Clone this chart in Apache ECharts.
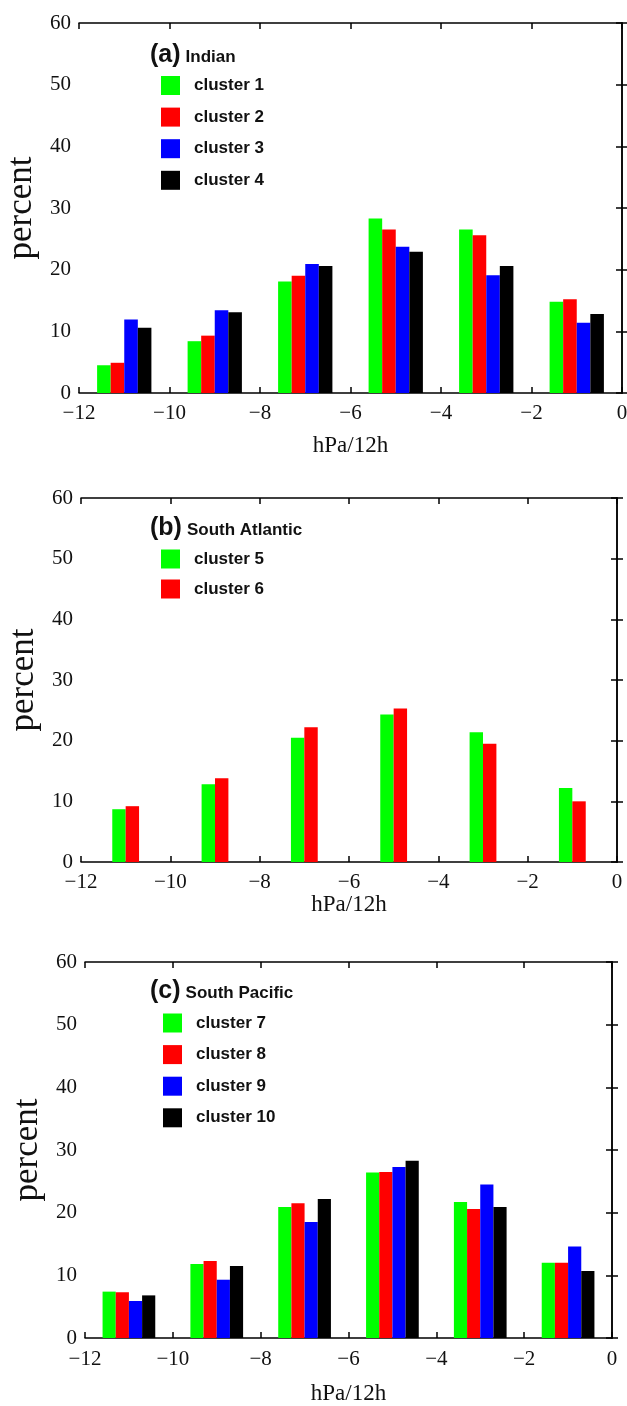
<!DOCTYPE html>
<html>
<head>
<meta charset="utf-8">
<script src="https://cdn.jsdelivr.net/npm/echarts@6/dist/echarts.min.js"></script>
<style>
html,body{margin:0;padding:0;background:#fff;}
#c{width:627px;height:1406px;}
</style>
</head>
<body>
<div id="c"></div>
<script>
// ---- data ----
const categories = ['-11', '-9', '-7', '-5', '-3', '-1']; // bin centres, hPa/12h
const xMin = -12, xMax = 0, xStep = 2;
const yMin = 0, yMax = 60, yStep = 10;

const indianNames = ['cluster 1', 'cluster 2', 'cluster 3', 'cluster 4'];
const cluster1 = [4.5, 8.4, 18.1, 28.3, 26.5, 14.8];
const cluster2 = [4.9, 9.3, 19.0, 26.5, 25.6, 15.2];
const cluster3 = [11.9, 13.4, 20.9, 23.7, 19.1, 11.4];
const cluster4 = [10.6, 13.1, 20.6, 22.9, 20.6, 12.8];

const atlanticNames = ['cluster 5', 'cluster 6'];
const cluster5 = [8.7, 12.8, 20.5, 24.3, 21.4, 12.2];
const cluster6 = [9.2, 13.8, 22.2, 25.3, 19.5, 10.0];

const pacificNames = ['cluster 7', 'cluster 8', 'cluster 9', 'cluster 10'];
const cluster7 = [7.4, 11.8, 20.9, 26.4, 21.7, 12.0];
const cluster8 = [7.3, 12.3, 21.5, 26.5, 20.6, 12.0];
const cluster9 = [5.9, 9.3, 18.5, 27.3, 24.5, 14.6];
const cluster10 = [6.8, 11.5, 22.2, 28.3, 20.9, 10.7];

const panelTitles = [['(a)', 'Indian'], ['(b)', 'South Atlantic'], ['(c)', 'South Pacific']];
const xName = 'hPa/12h';
const yName = 'percent';
const colors = ['#00ff00', '#ff0000', '#0000ff', '#000000'];

// ---- layout ----
const panels = [
  {grid:{left:79, top:23, width:543, height:370}, names: indianNames, data:[cluster1,cluster2,cluster3,cluster4], gap:'40%',
   titleTop:43, titleLeft:150, legendLeft:161, legendTop:76, legendGap:12.6, xNameGap:41, xLabelMargin:10, yNameGap:36},
  {grid:{left:81, top:498, width:536, height:364}, names: atlanticNames, data:[cluster5,cluster6], gap:'70%',
   titleTop:516, titleLeft:150, legendLeft:161, legendTop:549.5, legendGap:11, xNameGap:30, xLabelMargin:10, yNameGap:38},
  {grid:{left:85, top:962, width:527, height:376}, names: pacificNames, data:[cluster7,cluster8,cluster9,cluster10], gap:'40%',
   titleTop:979, titleLeft:150, legendLeft:163, legendTop:1013.5, legendGap:12.6, xNameGap:44, xLabelMargin:11, yNameGap:38}
];

const serif = '"Liberation Serif", "Times New Roman", serif';
const sans = '"Liberation Sans", Arial, sans-serif';
const lineStyle = {color:'#000', width:1.5};
const fmtX = v => (v < 0 ? '\u2212' + Math.abs(v) : String(v));

const option = {
  animation:false,
  backgroundColor:'#fff',
  grid:[], xAxis:[], yAxis:[], series:[], legend:[], title:[]
};

panels.forEach((p, i) => {
  option.grid.push(Object.assign({containLabel:false, outerBoundsMode:'none'}, p.grid));
  const xb = option.xAxis.length;
  // hidden category axis for bars
  option.xAxis.push({type:'category', gridIndex:i, data:categories, show:false, boundaryGap:true});
  // bottom value axis
  option.xAxis.push({type:'value', gridIndex:i, position:'bottom', min:xMin, max:xMax, interval:xStep,
    name:xName, nameLocation:'middle', nameGap:p.xNameGap,
    nameTextStyle:{fontFamily:serif, fontSize:23, color:'#111'},
    axisLine:{show:true, lineStyle}, axisTick:{show:true, inside:true, length:6, lineStyle},
    axisLabel:{formatter:fmtX, fontFamily:serif, fontSize:21, color:'#111', margin:p.xLabelMargin},
    splitLine:{show:false}});
  // top mirror axis
  option.xAxis.push({type:'value', gridIndex:i, position:'top', min:xMin, max:xMax, interval:xStep,
    axisLine:{show:true, lineStyle}, axisTick:{show:true, inside:true, length:6, lineStyle},
    axisLabel:{show:false}, splitLine:{show:false}});
  const yb = option.yAxis.length;
  option.yAxis.push({type:'value', gridIndex:i, position:'left', min:yMin, max:yMax, interval:yStep,
    name:yName, nameLocation:'middle', nameGap:p.yNameGap, nameRotate:90,
    nameTextStyle:{fontFamily:serif, fontSize:35, color:'#111'},
    axisLine:{show:true, lineStyle}, axisTick:{show:true, inside:true, length:6, lineStyle},
    axisLabel:{fontFamily:serif, fontSize:21, color:'#111', margin:8},
    splitLine:{show:false}});
  option.yAxis.push({type:'value', gridIndex:i, position:'right', min:yMin, max:yMax, interval:yStep,
    axisLine:{show:true, lineStyle}, axisTick:{show:true, inside:true, length:6, lineStyle},
    axisLabel:{show:false}, splitLine:{show:false}});

  p.names.forEach((nm, k) => {
    option.series.push({type:'bar', name:nm, xAxisIndex:xb, yAxisIndex:yb, data:p.data[k],
      barGap:'0%', barCategoryGap:p.gap, itemStyle:{color:colors[k]}});
  });

  option.legend.push({orient:'vertical', left:p.legendLeft, top:p.legendTop, padding:0,
    itemWidth:19, itemHeight:19, itemGap:p.legendGap, data:p.names, icon:'rect',
    selectedMode:false,
    textStyle:{fontFamily:sans, fontWeight:'bold', fontSize:17, color:'#111', padding:[0,0,0,9], lineHeight:19}});

  option.title.push({left:p.titleLeft, top:p.titleTop, padding:0,
    text:'{a|' + panelTitles[i][0] + '} {b|' + panelTitles[i][1] + '}',
    textStyle:{rich:{
      a:{fontFamily:sans, fontWeight:'bold', fontSize:25, color:'#111'},
      b:{fontFamily:sans, fontWeight:'bold', fontSize:17, color:'#111', padding:[3,0,0,0]}
    }}});
});

const chart = echarts.init(document.getElementById('c'), null, {renderer:'canvas'});
chart.setOption(option);
</script>
</body>
</html>
